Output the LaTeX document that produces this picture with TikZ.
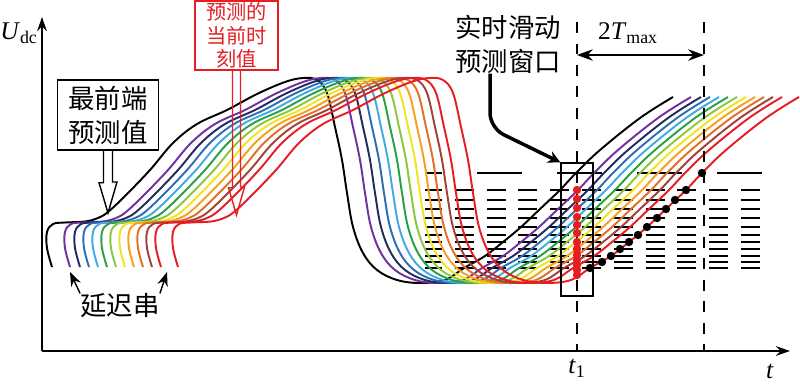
\documentclass[tikz,border=0pt]{standalone}
\usepackage{fontspec}
\setmainfont{Liberation Serif}
\newfontfamily\cjk{Noto Sans CJK SC}
\usetikzlibrary{arrows.meta}
\definecolor{cpurple}{RGB}{112,48,160}
\definecolor{cnavy}{RGB}{36,42,96}
\definecolor{cblue}{RGB}{46,109,180}
\definecolor{clblue}{RGB}{64,170,225}
\definecolor{cgreen}{RGB}{40,160,70}
\definecolor{cygreen}{RGB}{140,198,63}
\definecolor{cyellow}{RGB}{240,228,30}
\definecolor{corange}{RGB}{245,160,30}
\definecolor{cdorange}{RGB}{228,110,35}
\definecolor{cbrown}{RGB}{160,65,60}
\definecolor{cred}{RGB}{230,30,35}
\newcommand{\udcpath}{plot[smooth,tension=0.6] coordinates {(52,-267) (47,-248) (47,-232) (53,-224) (65,-222.5) (85,-221.5) (98,-218) (108,-212) (125,-196) (150,-170) (173,-143) (197,-124) (227,-110) (257,-94) (285,-82) (303,-78) (317,-80) (327,-93) (335,-127) (342,-160) (347,-193) (353,-227) (363,-253) (377,-270) (397,-280) (420,-283) (445,-280) (464,-268) (485,-256) (503,-242) (521,-227) (540,-209) (560,-190) (576,-173) (600,-150) (640,-118) (673,-97)}}
\begin{document}
\begin{tikzpicture}[x=0.02cm,y=0.02cm]
\tikzstyle{every node}+=[inner sep=0pt]
\tikzstyle{curve}=[line width=1.1pt]
\tikzstyle{axis}=[line width=0.9pt,-{Stealth[length=8pt,width=5.5pt]}]
\tikzstyle{rowlong}=[line width=0.8pt,dash pattern=on 0.9cm off 0.7cm,dash phase=0.56cm]
\tikzstyle{rowshort}=[line width=0.8pt,dash pattern=on 0.38cm off 0.256cm,dash phase=0.04cm]
\tikzstyle{vdash}=[line width=0.7pt,dash pattern=on 0.22cm off 0.21cm]
\tikzstyle{lab}=[font=\cjk\fontsize{15}{19.3}\selectfont,align=center]
\tikzstyle{sym}=[font=\fontsize{14.5}{16}\selectfont]
\tikzstyle{ptr}=[line width=0.8pt,-{Stealth[length=8pt,width=6pt]}]
\useasboundingbox (0,0) rectangle (800,-386);
\coordinate (o) at (42,-351);
\coordinate (ytop) at (42,-17);
\coordinate (xend) at (790,-351);
\draw[axis] (o) -- (ytop);
\draw[axis] (o) -- (xend);
\node[sym] (ulabel) at (19,-33) {\textit{U}\textsubscript{dc}};
\node[sym] (tlabel) at (770,-371) {\textit{t}};
\node[sym] (t1label) at (577,-368) {\textit{t}\textsubscript{1}};
\node[sym] (tmaxlabel) at (628,-33) {2\textit{T}\textsubscript{max}};
\draw[rowlong] (425,-173) -- (762,-173);
\draw[rowshort] (425,-190) -- (762,-190);
\draw[rowshort] (425,-200) -- (762,-200);
\draw[rowshort] (425,-209) -- (762,-209);
\draw[rowshort] (425,-218) -- (762,-218);
\draw[rowshort] (425,-227) -- (762,-227);
\draw[rowshort] (425,-235) -- (762,-235);
\draw[rowshort] (425,-242) -- (762,-242);
\draw[rowshort] (425,-249) -- (762,-249);
\draw[rowshort] (425,-256) -- (762,-256);
\draw[rowshort] (425,-262) -- (762,-262);
\draw[rowshort] (425,-268) -- (762,-268);
\draw[curve] \udcpath;
\draw[curve,cpurple,shift={(18,0)}] \udcpath;
\draw[curve,cnavy,shift={(28,0)}] \udcpath;
\draw[curve,cblue,shift={(37,0)}] \udcpath;
\draw[curve,clblue,shift={(46,0)}] \udcpath;
\draw[curve,cgreen,shift={(55,0)}] \udcpath;
\draw[curve,cygreen,shift={(64,0)}] \udcpath;
\draw[curve,cyellow,shift={(73,0)}] \udcpath;
\draw[curve,corange,shift={(82,0)}] \udcpath;
\draw[curve,cdorange,shift={(91,0)}] \udcpath;
\draw[curve,cbrown,shift={(100,0)}] \udcpath;
\draw[curve,cred,shift={(109,0)}] \udcpath;
\draw[curve,cred,shift={(126,0)}] \udcpath;
\coordinate (ta) at (577,-22);
\coordinate (tb) at (704,-22);
\draw[vdash] (ta) -- (ta |- o);
\draw[vdash] (tb) -- (tb |- o);
\coordinate (wa) at (577,-55);
\coordinate (wb) at (704,-55);
\draw[line width=0.9pt,{Stealth[length=9pt,width=6.5pt]}-{Stealth[length=9pt,width=6.5pt]}] (wa) -- (wb);
\node[draw,line width=0.7pt,minimum width=0.64cm,minimum height=2.66cm] (winbox) at (577,-229.5) {};
\fill[cred] (577,-190) circle (4.2) (577,-199) circle (4.2) (577,-208) circle (4.2) (577,-217) circle (4.2) (577,-225) circle (4.2) (577,-233) circle (4.2) (577,-242) circle (4.2) (577,-249) circle (4.2) (577,-255) circle (4.2) (577,-260) circle (4.2) (577,-265) circle (4.2) (577,-270) circle (4.2) (577,-275) circle (4.2);
\fill (590,-268) circle (4.2) (602,-262) circle (4.2) (611,-256) circle (4.2) (620,-249) circle (4.2) (629,-242) circle (4.2) (638,-235) circle (4.2) (647,-227) circle (4.2) (657,-218) circle (4.2) (666,-209) circle (4.2) (675,-200) circle (4.2) (686,-190) circle (4.2) (702,-173) circle (4.2);
\node[lab,draw,line width=0.8pt,minimum width=2.02cm,minimum height=1.4cm] (front) at (108,-115) {最前端\\预测值};
\coordinate (fronttip) at (108,-213);
\draw[line width=0.8pt] (front.south) ++(-4.5,0) -- ++(0,-32) -- ++(-4.5,0) -- (fronttip) -- ++(9,31) -- ++(-4.5,0) -- ++(0,32);
\node[draw=cred,text=cred,line width=0.8pt,minimum width=1.66cm,minimum height=1.38cm,align=center,font=\cjk\fontsize{11.5}{13.5}\selectfont] (curr) at (236.5,-35.5) {预测的\\当前时\\刻值};
\coordinate (currtip) at (236.5,-215);
\draw[cred,line width=0.8pt] (curr.south) ++(-4,0) -- ++(0,-117) -- ++(-4,0) -- (currtip) -- ++(8,28) -- ++(-4,0) -- ++(0,117);
\node[lab] (winlabel) at (508,-44) {实时滑动\\预测窗口};
\coordinate (wbend) at (490,-128);
\draw[line width=2pt,rounded corners=0.3cm,-{Stealth[length=7pt,width=7pt]}] (winlabel.south -| wbend) -- (wbend) -- (winbox.north west);
\node[lab] (delay) at (120,-306) {延迟串};
\coordinate (dtipl) at (70,-272);
\coordinate (dtipr) at (167,-272);
\draw[ptr] (delay.north west) -- (dtipl);
\draw[ptr] (delay.north east) -- (dtipr);
\end{tikzpicture}
\end{document}
